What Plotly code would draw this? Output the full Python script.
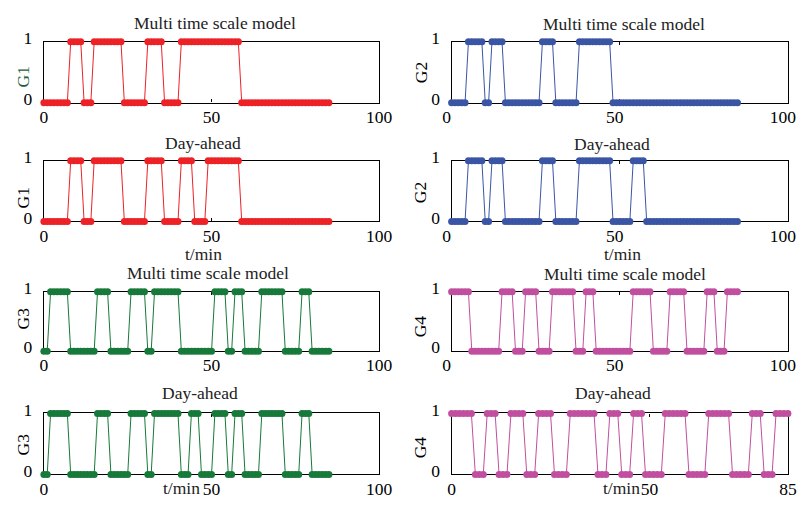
import plotly.graph_objects as go

# Time index (minutes)
t = list(range(86))

# Unit on/off states (1 = on, 0 = off)
G1_multi = [0,0,0,0,0,0,0,0,
            1,1,1,1,
            0,0,0,
            1,1,1,1,1,1,1,1,1,
            0,0,0,0,0,0,0,
            1,1,1,1,1,
            0,0,0,0,0,
            1,1,1,1,1,1,1,1,1,1, 1,1,1,1,1,1,1,1,
            0,0,0,0,0,0,0,0,0,0, 0,0,0,0,0,0,0,0,0,0, 0,0,0,0,0,0,0]
G1_day = [0,0,0,0,0,0,0,0,
          1,1,1,1,
          0,0,0,
          1,1,1,1,1,1,1,1,1,
          0,0,0,0,0,0,0,
          1,1,1,1,1,
          0,0,0,0,0,
          1,1,1,1,
          0,0,0,0,
          1,1,1,1,1,1,1,1,1,1,
          0,0,0,0,0,0,0,0,0,0, 0,0,0,0,0,0,0,0,0,0, 0,0,0,0,0,0,0]
G2_multi = [0,0,0,0,0,
            1,1,1,1,1,
            0,0,
            1,1,1,1,
            0,0,0,0,0,0,0,0,0,0,0,
            1,1,1,1,
            0,0,0,0,0,0,0,
            1,1,1,1,1,1,1,1,1,1,
            0,0,0,0,0,0,0,0,0,0, 0,0,0,0,0,0,0,0,0,0,
            0,0,0,0,0,0,0,0,0,0, 0,0,0,0,0,0,0,0]
G2_day = [0,0,0,0,0,
          1,1,1,1,1,
          0,0,
          1,1,1,1,
          0,0,0,0,0,0,0,0,0,0,0,
          1,1,1,1,
          0,0,0,0,0,0,0,
          1,1,1,1,1,1,1,1,1,1,
          0,0,0,0,0,0,
          1,1,1,1,
          0,0,0,0,0,0,0,0,0,0, 0,0,0,0,0,0,0,0,0,0, 0,0,0,0,0,0,0,0]
G3_multi = [0,0,
            1,1,1,1,1,1,
            0,0,0,0,0,0,0,0,
            1,1,1,1,
            0,0,0,0,0,0,
            1,1,1,1,1,
            0,0,
            1,1,1,1,1,1,1,1,
            0,0,0,0,0,0,0,0,0,0,
            1,1,1,1,
            0,0,
            1,1,1,
            0,0,0,0,0,
            1,1,1,1,1,1,1,
            0,0,0,0,0,
            1,1,1,
            0,0,0,0,0,0]
G3_day = [0,0,
          1,1,1,1,1,1,
          0,0,0,0,0,0,0,0,
          1,1,1,1,
          0,0,0,0,0,0,
          1,1,1,1,1,
          0,0,
          1,1,1,1,1,1,1,1,
          0,0,0,
          1,1,1,
          0,0,0,0,
          1,1,1,1,
          0,0,
          1,1,1,
          0,0,0,0,0,
          1,1,1,1,1,1,1,
          0,0,0,0,0,
          1,1,1,
          0,0,0,0,0,0]
G4_multi = [1,1,1,1,1,1,
            0,0,0,0,0,0,0,0,0,
            1,1,1,1,
            0,0,0,
            1,1,1,1,
            0,0,0,0,
            1,1,1,1,1,1,1,
            0,0,0,
            1,1,1,
            0,0,0,0,0,0,0,0,0,0,0,
            1,1,1,1,1,1,
            0,0,0,0,0,
            1,1,1,1,1,
            0,0,0,0,0,0,
            1,1,1,
            0,0,0,
            1,1,1,1]
G4_day = [1,1,1,1,1,1,
          0,0,0,
          1,1,1,
          0,0,0,
          1,1,1,1,
          0,0,0,
          1,1,1,1,
          0,0,0,0,
          1,1,1,1,1,1,1,
          0,0,0,
          1,1,1,
          0,0,0,
          1,1,1,
          0,0,0,0,0,
          1,1,1,1,1,1,
          0,0,0,0,0,
          1,1,1,1,1,1,
          0,0,0,0,0,
          1,1,1,
          0,0,0,
          1,1,1,1]

for s in (G1_multi, G1_day, G2_multi, G2_day, G3_multi, G3_day, G4_multi, G4_day):
    assert len(s) == len(t), len(s)

RED = "#ec2227"
BLUE = "#3b55a5"
GREEN = "#17793a"
MAGENTA = "#c14f9f"
FONT = "Liberation Serif"
FS = 17.5

W, H = 809, 506
BODY_MARGIN = 8
# Screen-unit conversion of the displayed page (screen px per page px, offset)
SX, SY = 809 / 825, 506 / 527
CX, CY = -1.0, 2.0

# Panel frames in screen pixels: (left, right) per column, (top, bottom) per row
cols_px = [(42, 380), (453, 792)]
rows_px = [(37.5, 98.3), (156.5, 217), (287.3, 346.7), (409, 470)]

# (row, col, series, colour, x max, title, y label, y-label colour)
panels = [
    (0, 0, G1_multi, RED, 100, "Multi time scale model", "G1", "#1f5e38"),
    (0, 1, G2_multi, BLUE, 100, "Multi time scale model", "G2", "black"),
    (1, 0, G1_day, RED, 100, "Day-ahead", "G1", "black"),
    (1, 1, G2_day, BLUE, 100, "Day-ahead", "G2", "black"),
    (2, 0, G3_multi, GREEN, 100, "Multi time scale model", "G3", "black"),
    (2, 1, G4_multi, MAGENTA, 100, "Multi time scale model", "G4", "black"),
    (3, 0, G3_day, GREEN, 100, "Day-ahead", "G3", "black"),
    (3, 1, G4_day, MAGENTA, 85, "Day-ahead", "G4", "black"),
]

# Title centres and y-label centres (screen pixels)
title_pos = [(215, 18.5), (627, 19.5), (202, 138.5), (615, 139.5),
             (207, 268.5), (628, 269.5), (199, 388.5), (616, 388.5)]
ylab_pos = [(21, 73), (422, 68), (21, 194), (422, 188),
            (21, 314), (422, 322), (21, 440), (422, 443)]


def px(x):
    return ((x - CX) / SX - BODY_MARGIN) / W


def py(y):
    return 1 - ((y - CY) / SY - BODY_MARGIN) / H


fig = go.Figure()
layout = {}
annotations = []

for i, (r, c, series, color, xmax, title, ylab, ycol) in enumerate(panels, start=1):
    fig.add_trace(go.Scatter(
        x=t, y=series, mode="lines+markers",
        line=dict(color=color, width=1),
        marker=dict(color=color, size=7, line=dict(width=0)),
        cliponaxis=False, showlegend=False,
        xaxis=f"x{i}", yaxis=f"y{i}",
    ))
    x0, x1 = cols_px[c]
    y0, y1 = rows_px[r]
    layout[f"xaxis{i}"] = dict(
        domain=[px(x0), px(x1)], anchor=f"y{i}", range=[0, xmax],
        tickvals=[0, 50, xmax], ticktext=["0", "50", str(xmax)],
        showline=True, linecolor="black", linewidth=1.3, mirror="ticks",
        ticks="inside", ticklen=3, tickcolor="black", tickwidth=1,
        showgrid=False, zeroline=False, layer="below traces",
        ticklabelstandoff=-2,
        ticklabelshift=(-5 if (c == 1 and xmax == 100) else 0),
        tickfont=dict(family=FONT, size=FS, color="black"),
    )
    layout[f"yaxis{i}"] = dict(
        domain=[py(y1), py(y0)], anchor=f"x{i}", range=[0, 1],
        tickvals=[0, 1], ticktext=["0", "1"],
        showline=True, linecolor="black", linewidth=1.3, mirror=True,
        ticks="", showgrid=False, zeroline=False, layer="below traces",
        ticklabelstandoff=7, ticklabelshift=-4,
        tickfont=dict(family=FONT, size=FS, color="black"),
    )
    tx, ty = title_pos[i - 1]
    annotations.append(dict(
        text=title, x=px(tx), y=py(ty), xref="paper", yref="paper",
        xanchor="center", yanchor="middle", showarrow=False,
        font=dict(family=FONT, size=FS, color="#222222"),
    ))
    lx, ly = ylab_pos[i - 1]
    annotations.append(dict(
        text=ylab, x=px(lx), y=py(ly), xref="paper", yref="paper",
        xanchor="center", yanchor="middle", showarrow=False, textangle=-90,
        font=dict(family=FONT, size=FS, color=ycol),
    ))

# Time-axis titles under the day-ahead panels
for (xx, yy) in [(203, 250), (625, 250)]:
    annotations.append(dict(
        text="t/min", x=px(xx), y=py(yy), xref="paper", yref="paper",
        xanchor="center", yanchor="middle", showarrow=False,
        font=dict(family=FONT, size=FS, color="#222222"),
    ))
for xx in (181, 624):
    annotations.append(dict(
        text="t/min", x=px(xx), y=0, xref="paper", yref="paper",
        xanchor="center", yanchor="bottom", showarrow=False,
        font=dict(family=FONT, size=FS, color="#222222"),
    ))

fig.update_layout(
    width=W, height=H, margin=dict(l=0, r=0, t=0, b=0),
    paper_bgcolor="white", plot_bgcolor="white",
    annotations=annotations, **layout,
)

fig.write_html("out.html")
